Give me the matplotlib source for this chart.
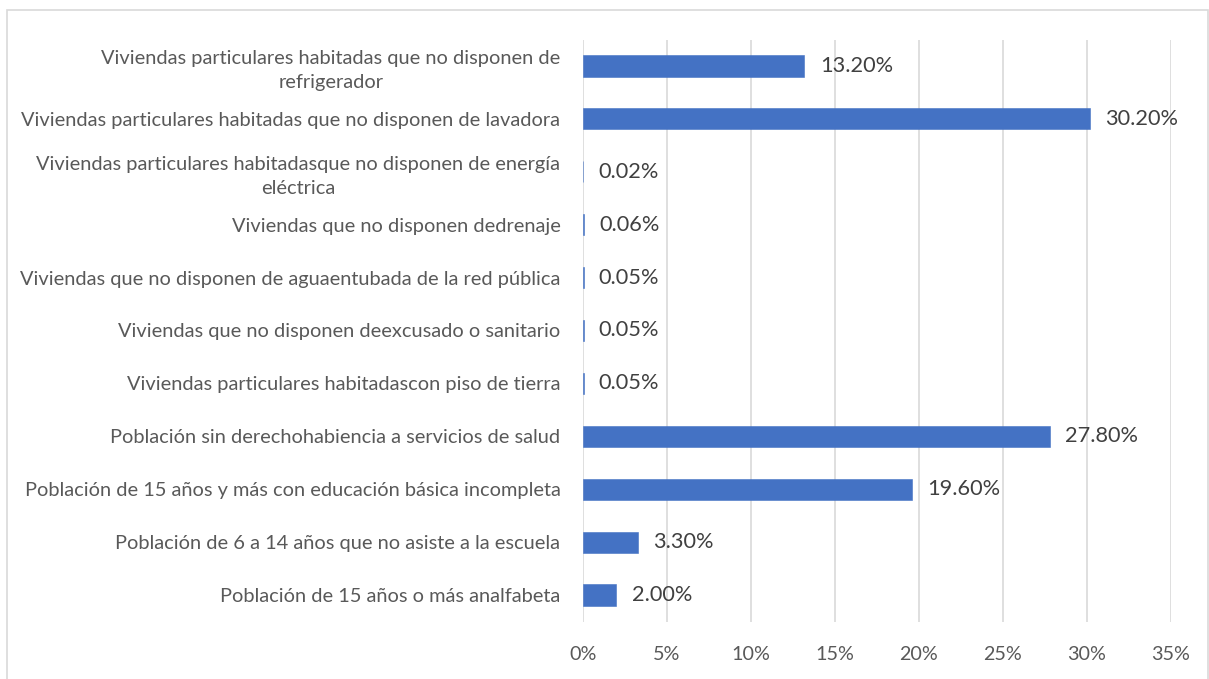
import matplotlib
matplotlib.use("Agg")
import matplotlib.pyplot as plt
from matplotlib.patches import Rectangle

categories = [
    "Viviendas particulares habitadas que no disponen de\nrefrigerador",
    "Viviendas particulares habitadas que no disponen de lavadora",
    "Viviendas particulares habitadasque no disponen de energía\neléctrica",
    "Viviendas que no disponen dedrenaje",
    "Viviendas que no disponen de aguaentubada de la red pública",
    "Viviendas que no disponen deexcusado o sanitario",
    "Viviendas particulares habitadascon piso de tierra",
    "Población sin derechohabiencia a servicios de salud",
    "Población de 15 años y más con educación básica incompleta",
    "Población de 6 a 14 años que no asiste a la escuela",
    "Población de 15 años o más analfabeta",
]
values = [13.20, 30.20, 0.02, 0.06, 0.05, 0.05, 0.05, 27.80, 19.60, 3.30, 2.00]
xticks = [0, 5, 10, 15, 20, 25, 30, 35]

plt.rcParams['font.family'] = ['Lato', 'DejaVu Sans']

W, H = 1209, 679
fig = plt.figure(figsize=(W / 100, H / 100), dpi=100)
fig.patch.set_facecolor('white')
fig.patches.append(Rectangle((7 / W, -0.01), (1208 - 7) / W, 1 - 10.5 / H + 0.01,
                             transform=fig.transFigure, fill=False,
                             edgecolor='#d9d9d9', linewidth=1.2))

left, right = 582.7 / W, 1170.7 / W
top, bottom = 1 - 39.5 / H, 1 - 621.5 / H
ax = fig.add_axes([left, bottom, right - left, top - bottom])

y = list(range(len(categories)))
ax.barh(y, values, height=0.4, color='#4472C4', edgecolor='#4472C4',
        linewidth=0.4, zorder=3)
ax.set_ylim(len(categories) - 0.5, -0.5)
ax.set_xlim(0, 35)
ax.set_xticks(xticks)
ax.set_xticklabels([f"{t}%" for t in xticks], fontsize=14.2, color='#595959')
ax.set_yticks(y)
ax.set_yticklabels(categories, fontsize=14.4, color='#595959',
                   multialignment='center', linespacing=1.45)
ax.tick_params(axis='both', length=0)
ax.tick_params(axis='y', pad=16)
ax.tick_params(axis='x', pad=18)
ax.grid(axis='x', color='#d9d9d9', linewidth=1.2, zorder=0)
for s in ax.spines.values():
    s.set_visible(False)

for yi, v in zip(y, values):
    ax.annotate(f"{v:.2f}%", (v, yi), xytext=(11, 0), textcoords='offset points',
                va='center', ha='left', fontsize=15.7, color='#404040')

fig.savefig("out.png", dpi=100)
